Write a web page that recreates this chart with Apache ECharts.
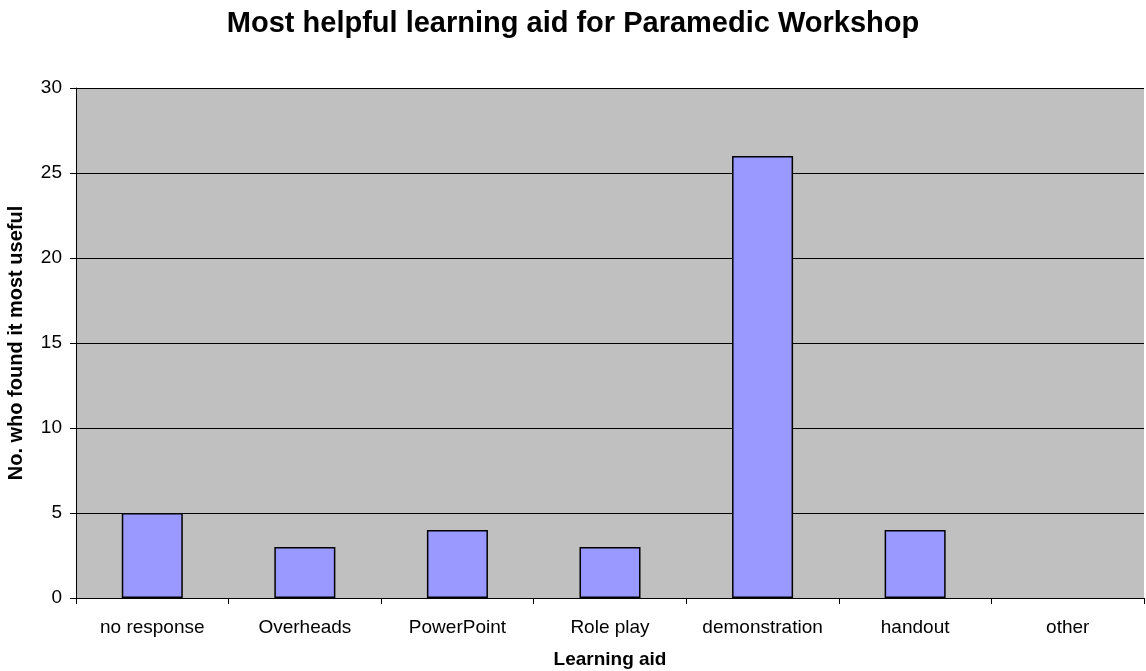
<!DOCTYPE html>
<html>
<head>
<meta charset="utf-8">
<script src="https://cdn.jsdelivr.net/npm/echarts@6/dist/echarts.min.js"></script>
<style>
  html, body { margin: 0; padding: 0; background: #fff; }
  #chart { width: 1146px; height: 671px; }
</style>
</head>
<body>
<div id="chart"></div>
<script>
// learning aids and how many picked each
const categories = ["no response", "Overheads", "PowerPoint", "Role play", "demonstration", "handout", "other"];
const counts = [5, 3, 4, 3, 26, 4, 0];

const chart = echarts.init(document.getElementById("chart"));
const font = "Liberation Sans, Arial, sans-serif";

chart.setOption({
  animation: false,
  textStyle: { fontFamily: font },
  title: {
    text: "Most helpful learning aid for Paramedic Workshop",
    left: "center",
    top: 4,
    textStyle: { fontSize: 29, fontWeight: "bold", color: "#000", fontFamily: font },
  },
  grid: {
    left: 76,
    right: 2,
    top: 88,
    bottom: 73,
    containLabel: false,
    outerBoundsMode: "none",
    show: true,
    backgroundColor: "#C0C0C0",
    borderWidth: 0,
  },
  xAxis: {
    type: "category",
    data: categories,
    name: "Learning aid",
    nameLocation: "middle",
    nameGap: 52,
    nameTextStyle: { fontSize: 19, fontWeight: "bold", color: "#000" },
    axisLine: { lineStyle: { color: "#000", width: 1 } },
    axisTick: { show: true, interval: 0, length: 6, lineStyle: { color: "#000" } },
    axisLabel: { interval: 0, fontSize: 19, color: "#000", margin: 20 },
  },
  yAxis: {
    type: "value",
    min: 0,
    max: 30,
    interval: 5,
    name: "No. who found it most useful",
    nameLocation: "middle",
    nameGap: 50,
    nameTextStyle: { fontSize: 20, fontWeight: "bold", color: "#000" },
    axisLine: { show: true, lineStyle: { color: "#000", width: 1 } },
    axisTick: { show: true, length: 6, lineStyle: { color: "#000" } },
    axisLabel: { fontSize: 19, color: "#000", margin: 14 },
    splitLine: { show: true, lineStyle: { color: "#000", width: 1 } },
  },
  series: [
    {
      type: "bar",
      // empty bars get no outline
      data: counts.map((v) => (v === 0 ? { value: v, itemStyle: { borderWidth: 0 } } : v)),
      barWidth: "40%",
      itemStyle: { color: "#9999FF", borderColor: "#000", borderWidth: 1.5 },
    },
  ],
});
</script>
</body>
</html>
